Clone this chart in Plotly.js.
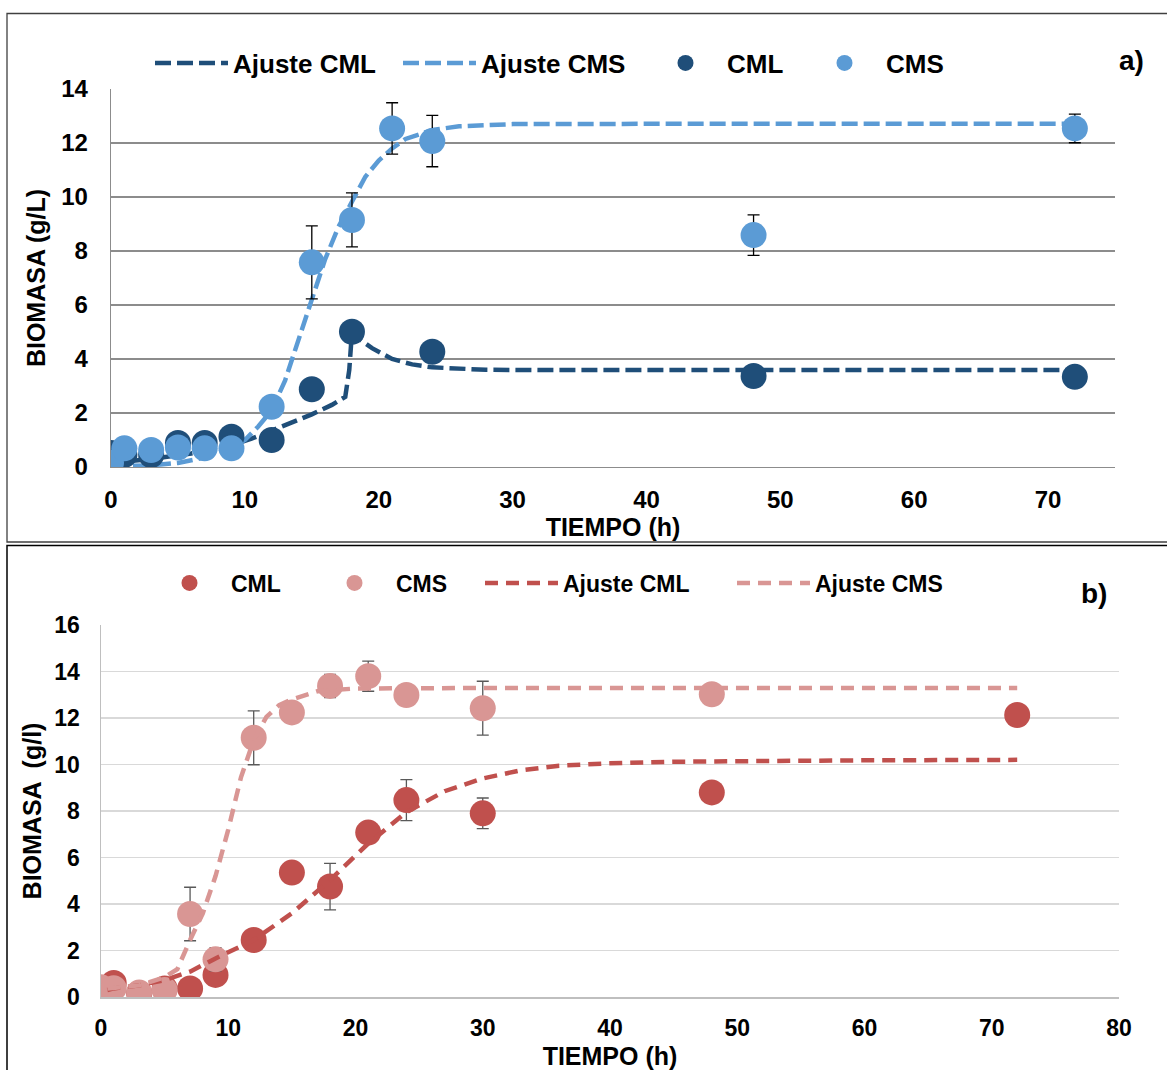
<!DOCTYPE html>
<html>
<head>
<meta charset="utf-8">
<script src="https://cdn.plot.ly/plotly-3.0.1.min.js"></script>
<style>html,body{margin:0;padding:0;background:#fff;}#chart{width:1167px;height:1070px;}</style>
</head>
<body>
<div id="chart"></div>
<script>
// ---- Panel a) data ----
const a_cml_x = [0, 1, 3, 5, 7, 9, 12, 15, 18, 24, 48, 72];
const a_cml_y = [0.52, 0.45, 0.44, 0.89, 0.89, 1.12, 1.0, 2.88, 5.01, 4.27, 3.37, 3.34];
const a_cms_x = [0, 1, 3, 5, 7, 9, 12, 15, 18, 21, 24, 48, 72];
const a_cms_y = [0.16, 0.69, 0.63, 0.72, 0.69, 0.69, 2.23, 7.58, 9.15, 12.54, 12.07, 8.59, 12.54];
const a_cms_err = [null, null, null, null, null, null, null, 1.35, 1.0, 0.95, 0.95, 0.75, 0.53];
const a_fitcml_x = [0, 3, 6, 9, 10.5, 12, 13.5, 15, 16.5, 17.5, 17.8, 18, 18.5, 19.5, 21, 22.5, 24, 26, 28, 32, 40, 50, 60, 72];
const a_fitcml_y = [0.15, 0.3, 0.5, 0.8, 1.05, 1.35, 1.65, 1.95, 2.3, 2.6, 3.6, 5.0, 4.75, 4.4, 4.0, 3.8, 3.69, 3.63, 3.6, 3.59, 3.59, 3.59, 3.59, 3.59];
const a_fitcms_x = [0, 3, 5, 7, 9, 10, 11, 12, 13, 14, 15, 16, 17, 18, 19, 20, 21, 22, 24, 26, 30, 40, 72];
const a_fitcms_y = [0.02, 0.06, 0.15, 0.35, 0.72, 1.0, 1.5, 2.1, 3.2, 4.7, 6.3, 7.7, 8.9, 9.85, 10.75, 11.35, 11.8, 12.15, 12.48, 12.62, 12.7, 12.71, 12.71];

// ---- Panel b) data ----
const b_cml_x = [0, 1, 3, 5, 7, 9, 12, 15, 18, 21, 24, 30, 48, 72];
const b_cml_y = [0.37, 0.6, 0.16, 0.37, 0.37, 0.95, 2.45, 5.35, 4.75, 7.07, 8.47, 7.9, 8.8, 12.13];
const b_cml_err = [null, null, null, null, null, null, null, null, 1.0, null, 0.88, 0.66, null, null];
const b_cms_x = [0, 1, 3, 5, 7, 9, 12, 15, 18, 21, 24, 30, 48];
const b_cms_y = [0.42, 0.38, 0.19, 0.3, 3.57, 1.62, 11.15, 12.24, 13.38, 13.8, 12.99, 12.42, 13.02];
const b_cms_err = [null, null, null, null, 1.15, 0.5, 1.16, null, 0.5, 0.65, null, 1.16, null];
const b_fitcml_x = [0.5, 1, 3, 5, 7, 9, 12, 15, 18, 21, 24, 27, 30, 33, 36, 40, 45, 50, 60, 72];
const b_fitcml_y = [0.3, 0.37, 0.5, 0.73, 1.09, 1.66, 2.45, 3.6, 5.03, 6.6, 7.95, 8.85, 9.4, 9.75, 9.95, 10.05, 10.12, 10.15, 10.18, 10.2];
const b_fitcms_x = [0.5, 3, 5, 6, 7, 8, 9, 10, 11, 12, 13, 14, 15, 17, 20, 25, 30, 72];
const b_fitcms_y = [0.37, 0.5, 0.85, 1.2, 2.45, 3.6, 5.2, 7.2, 9.45, 11.05, 12.05, 12.55, 12.8, 13.15, 13.27, 13.29, 13.29, 13.29];

const W = 1167, H = 1070;
const fx = p => p / W;
const fy = p => 1 - p / H;
const FONT = 'Liberation Sans, Arial, sans-serif';

const darkBlue = '#1F4E79', lightBlue = '#5B9BD5';
const red = '#C0504D', pink = '#D99694';

const traces = [
  {x: a_fitcml_x, y: a_fitcml_y, name: 'Ajuste CML', mode: 'lines', xaxis: 'x', yaxis: 'y', legend: 'legend',
   line: {color: darkBlue, width: 4.5, dash: '16px,6px'}},
  {x: a_fitcms_x, y: a_fitcms_y, name: 'Ajuste CMS', mode: 'lines', xaxis: 'x', yaxis: 'y', legend: 'legend2',
   line: {color: lightBlue, width: 4.5, dash: '16px,6px'}},
  {x: a_cml_x, y: a_cml_y, name: 'CML', mode: 'markers', xaxis: 'x', yaxis: 'y', legend: 'legend3',
   marker: {color: darkBlue, size: 26}},
  {x: a_cms_x, y: a_cms_y, name: 'CMS', mode: 'markers', xaxis: 'x', yaxis: 'y', legend: 'legend4',
   marker: {color: lightBlue, size: 26},
   error_y: {type: 'data', array: a_cms_err, visible: true, color: '#000', thickness: 1.3, width: 6}},

  {x: b_cml_x, y: b_cml_y, name: 'CML', mode: 'markers', xaxis: 'x2', yaxis: 'y2', legend: 'legend5',
   marker: {color: red, size: 26},
   error_y: {type: 'data', array: b_cml_err, visible: true, color: '#595959', thickness: 1.3, width: 6}},
  {x: b_cms_x, y: b_cms_y, name: 'CMS', mode: 'markers', xaxis: 'x2', yaxis: 'y2', legend: 'legend6',
   marker: {color: pink, size: 26},
   error_y: {type: 'data', array: b_cms_err, visible: true, color: '#595959', thickness: 1.3, width: 6}},
  {x: b_fitcml_x, y: b_fitcml_y, name: 'Ajuste CML', mode: 'lines', xaxis: 'x2', yaxis: 'y2', legend: 'legend7',
   line: {color: red, width: 4.5, dash: '13px,8px'}},
  {x: b_fitcms_x, y: b_fitcms_y, name: 'Ajuste CMS', mode: 'lines', xaxis: 'x2', yaxis: 'y2', legend: 'legend8',
   line: {color: pink, width: 4.5, dash: '13px,8px'}}
];

function leg(xpx, ypx, size) {
  return {x: fx(xpx), y: fy(ypx), xanchor: 'left', yanchor: 'middle', orientation: 'h',
          bgcolor: 'rgba(0,0,0,0)', borderwidth: 0, itemwidth: 73,
          font: {family: FONT, size: size, color: '#000', weight: 700}};
}

const tickFontA = {family: FONT, size: 24, color: '#000', weight: 700};
const tickFontB = {family: FONT, size: 23, color: '#000', weight: 700};
const titleFont = {family: FONT, size: 25, color: '#000', weight: 700};

const layout = {
  width: W, height: H,
  margin: {l: 0, r: 0, t: 0, b: 0},
  paper_bgcolor: '#fff', plot_bgcolor: '#fff',
  showlegend: true,
  xaxis: {domain: [fx(111), fx(1115)], anchor: 'y', range: [0, 75], tick0: 0, dtick: 10,
          showgrid: false, zeroline: false, showline: true, linecolor: '#8c8c8c', linewidth: 1.3,
          ticks: 'outside', ticklen: 11, tickcolor: 'rgba(0,0,0,0)', tickfont: tickFontA,
          title: {text: 'TIEMPO (h)', font: titleFont, standoff: 0}},
  yaxis: {domain: [fy(467), fy(89)], anchor: 'x', range: [0, 14], tick0: 0, dtick: 2,
          showgrid: true, gridcolor: '#8c8c8c', gridwidth: 1.3, zeroline: false,
          showline: true, linecolor: '#8c8c8c', linewidth: 1.3,
          ticks: 'outside', ticklen: 17, tickcolor: 'rgba(0,0,0,0)', tickfont: tickFontA,
          title: {text: 'BIOMASA (g/L)', font: titleFont, standoff: 8}},
  xaxis2: {domain: [fx(101), fx(1119)], anchor: 'y2', range: [0, 80], tick0: 0, dtick: 10,
          showgrid: false, zeroline: false, showline: true, linecolor: '#bfbfbf', linewidth: 1.5,
          ticks: 'outside', ticklen: 10, tickcolor: 'rgba(0,0,0,0)', tickfont: tickFontB,
          title: {text: 'TIEMPO (h)', font: titleFont, standoff: 12}},
  yaxis2: {domain: [fy(997), fy(625)], anchor: 'x2', range: [0, 16], tick0: 0, dtick: 2,
          showgrid: true, gridcolor: '#d9d9d9', gridwidth: 1.5, zeroline: false,
          showline: true, linecolor: '#bfbfbf', linewidth: 1.5,
          ticks: 'outside', ticklen: 15, tickcolor: 'rgba(0,0,0,0)', tickfont: tickFontB,
          title: {text: 'BIOMASA  (g/l)', font: titleFont, standoff: 5}},
  legend: leg(150, 63, 26),
  legend2: leg(398, 63, 26),
  legend3: leg(644, 63, 26),
  legend4: leg(803, 63, 26),
  legend5: leg(148, 583, 23),
  legend6: leg(313, 583, 23),
  legend7: leg(480, 583, 23),
  legend8: leg(732, 583, 23),
  annotations: [
    {text: 'a)', xref: 'paper', yref: 'paper', x: fx(1131), y: fy(60), xanchor: 'center', yanchor: 'middle',
     showarrow: false, font: {family: FONT, size: 28, color: '#000', weight: 700}},
    {text: 'b)', xref: 'paper', yref: 'paper', x: fx(1094), y: fy(593), xanchor: 'center', yanchor: 'middle',
     showarrow: false, font: {family: FONT, size: 28, color: '#000', weight: 700}}
  ],
  shapes: [
    {type: 'rect', xref: 'paper', yref: 'paper', x0: fx(7), x1: 1.02, y0: fy(542), y1: fy(13.5),
     line: {color: '#404040', width: 1.3}, fillcolor: 'rgba(0,0,0,0)', layer: 'below'},
    {type: 'rect', xref: 'paper', yref: 'paper', x0: fx(7), x1: 1.02, y0: -0.02, y1: fy(545.5),
     line: {color: '#000', width: 1.5}, fillcolor: 'rgba(0,0,0,0)', layer: 'below'}
  ]
};

Plotly.newPlot('chart', traces, layout, {displayModeBar: false, staticPlot: true});
</script>
</body>
</html>
